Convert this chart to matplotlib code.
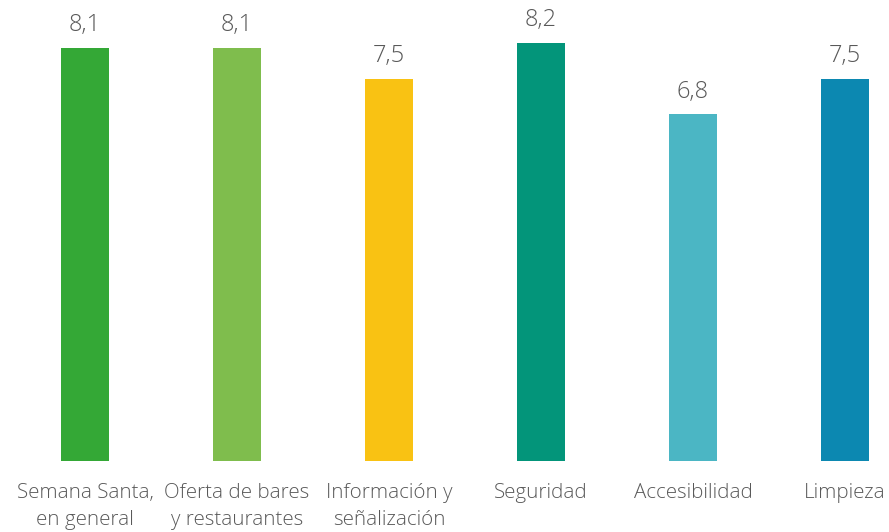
import matplotlib
matplotlib.use('Agg')
import matplotlib.pyplot as plt

categories = ['Semana Santa,\nen general', 'Oferta de bares\ny restaurantes',
              'Información y\nseñalización', 'Seguridad', 'Accesibilidad', 'Limpieza']
values = [8.1, 8.1, 7.5, 8.2, 6.8, 7.5]
colors = ['#34A836', '#7FBD4D', '#F9C213', '#03957A', '#4BB6C4', '#0C88B1']

plt.rcParams['font.family'] = ['Open Sans', 'DejaVu Sans']
text_color = '#595959'

fig = plt.figure(figsize=(8.89, 5.32), dpi=100)
ax = fig.add_axes([0, 71 / 532, 1, 459 / 532])

x = range(len(categories))
bars = ax.bar(x, values, width=0.315, color=colors)

for xi, v in zip(x, values):
    ax.annotate(str(v).replace('.', ','), (xi, v), xytext=(0, 12),
                textcoords='offset points', ha='center', va='baseline',
                fontsize=17, color=text_color, fontweight='light')

ax.set_xlim(-0.559, 5.289)
ax.set_ylim(0, 9)
ax.set_xticks(list(x))
ax.set_xticklabels(categories, fontsize=14.8, color=text_color, linespacing=1.45,
                   fontweight='light')
ax.tick_params(axis='x', length=0, pad=16)
ax.set_yticks([])
for s in ax.spines.values():
    s.set_visible(False)

fig.savefig('out.png', dpi=100)
